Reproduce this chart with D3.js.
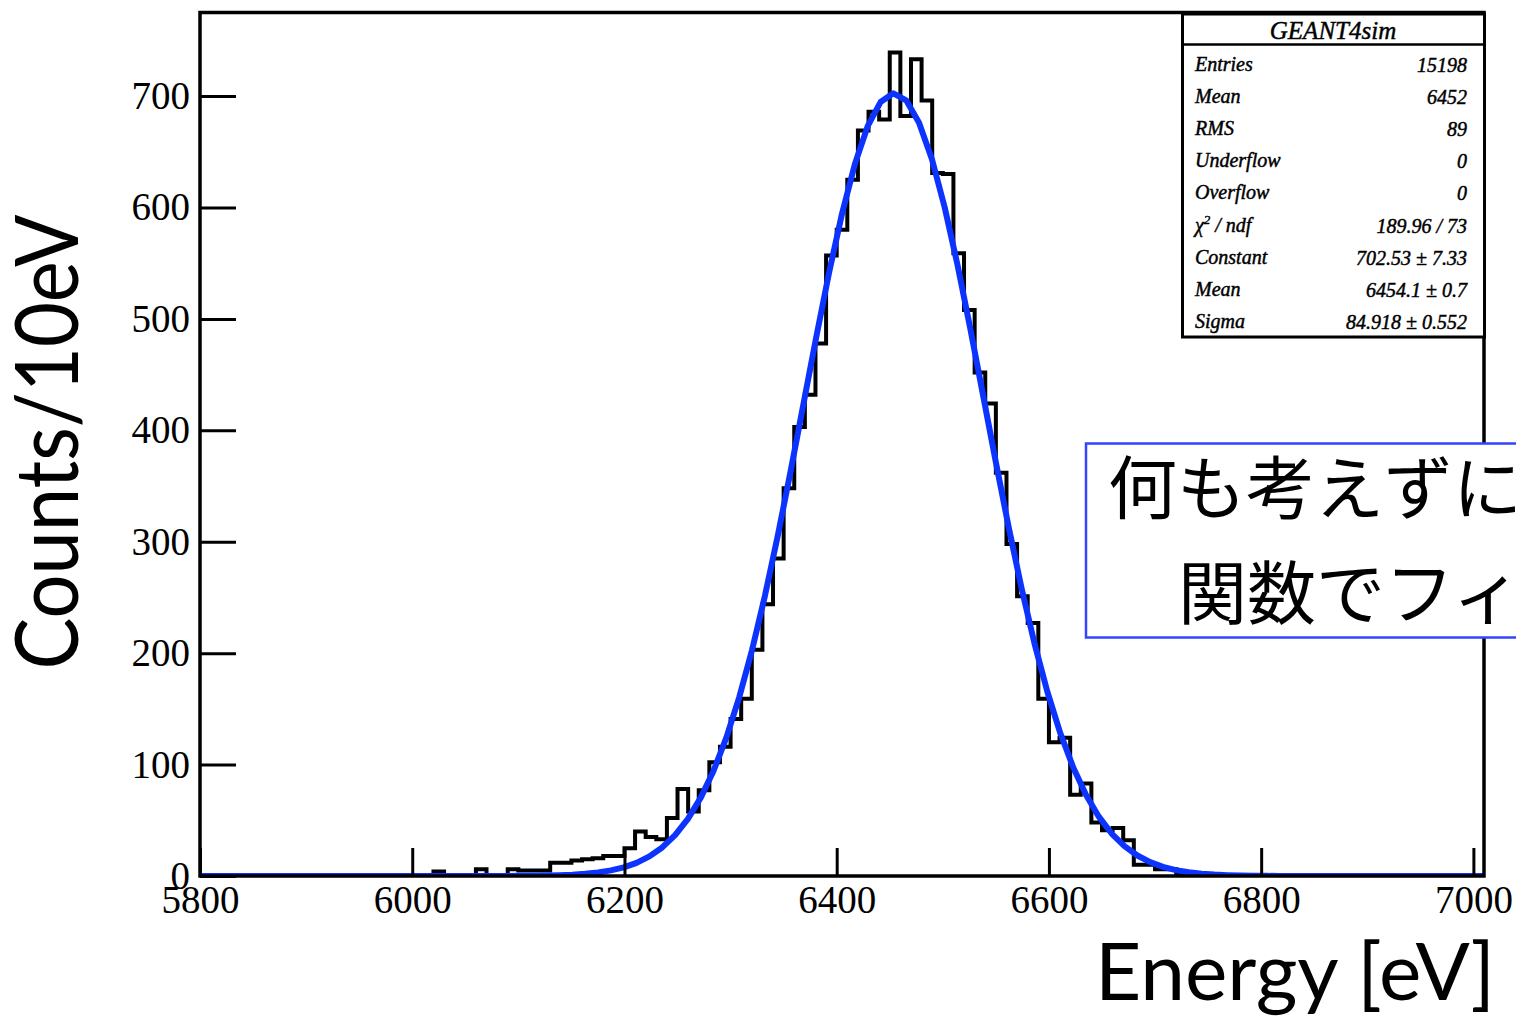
<!DOCTYPE html>
<html>
<head>
<meta charset="utf-8">
<script src="https://cdn.jsdelivr.net/npm/d3@7"></script>
<style>
  body { margin:0; background:#fff; }
  .tick text { font-family:"Liberation Serif", serif; }
</style>
</head>
<body>
<div id="container"></div>
<script>

// histogram: 10 eV bins, counts start at 6000 eV (everything else is empty)
var firstBin = 6000;
var binWidth = 10;
var counts = [
	0, 0, 4, 0, 0, 0, 6, 0, 0, 6,
	5, 5, 5, 12, 12, 14, 15, 16, 18, 18,
	25, 40, 35, 33, 52, 78, 58, 77, 102, 116,
	141, 159, 203, 244, 285, 348, 403, 432, 478, 557,
	580, 625, 669, 686, 679, 739, 682, 733, 696, 631,
	630, 559, 508, 452, 424, 362, 298, 251, 227, 159,
	120, 124, 73, 83, 48, 41, 43, 32, 10, 10,
	6, 6, 2, 2, 1, 0
];

// fit parameters (gaus)
var fitConstant = 702.53;
var fitMean = 6454.1;
var fitSigma = 84.918;
var fitPoints = 100;

var xDomain = [5800, 7010];
var yDomain = [0, 775];
var xMajor = [5800, 6000, 6200, 6400, 6600, 6800, 7000];
var yMajor = [0, 100, 200, 300, 400, 500, 600, 700];

var statLabels = ['Entries', 'Mean', 'RMS', 'Underflow', 'Overflow', 'chi2', 'Constant', 'Mean', 'Sigma'];
var statValues = ['15198', '6452', '89', '0', '0', '189.96 / 73', '702.53 \u00b1 7.33', '6454.1 \u00b1 0.7', '84.918 \u00b1 0.552'];

var noteLines = ['何も考えずに', '関数でフィ'];

function render() {
	var width = 1516, height = 1018;
	var plot = {left:200, top:12.5, right:1484, bottom:876};

	var svg = d3.select('#container')
		.append('svg')
		.attr('width', width)
		.attr('height', height)
		.style('display', 'block');

	svg.append('rect').attr('width', width).attr('height', height).attr('fill', '#fff');

	var x = d3.scaleLinear().domain(xDomain).range([plot.left, plot.right]);
	var y = d3.scaleLinear().domain(yDomain).range([plot.bottom, plot.top]);

	svg.append('clipPath').attr('id', 'clip')
		.append('rect')
		.attr('x', plot.left).attr('y', plot.top)
		.attr('width', plot.right - plot.left).attr('height', plot.bottom - plot.top);

	// histogram outline
	var pts = [[xDomain[0], 0]];
	counts.forEach(function(c, i) {
		var e = firstBin + i * binWidth;
		pts.push([e, 0 === i ? 0 : counts[i - 1]]);
		pts.push([e, c]);
	});
	var lastEdge = firstBin + counts.length * binWidth;
	pts.push([lastEdge, counts[counts.length - 1]]);
	pts.push([lastEdge, 0]);
	pts.push([xDomain[1], 0]);

	svg.append('path')
		.attr('clip-path', 'url(#clip)')
		.attr('d', d3.line().x(d => x(d[0])).y(d => y(d[1]))(pts))
		.attr('fill', 'none')
		.attr('stroke', '#000')
		.attr('stroke-width', 4);

	// fit curve
	var fit = d3.range(fitPoints + 1).map(function(k) {
		var e = xDomain[0] + (xDomain[1] - xDomain[0]) * k / fitPoints;
		return [e, fitConstant * Math.exp(-0.5 * Math.pow((e - fitMean) / fitSigma, 2))];
	});
	svg.append('path')
		.attr('clip-path', 'url(#clip)')
		.attr('d', d3.line().x(d => x(d[0])).y(d => y(d[1]))(fit))
		.attr('fill', 'none')
		.attr('stroke', '#0d33ff')
		.attr('stroke-width', 6)
		.attr('stroke-linejoin', 'round');

	// axes, ROOT style ticks pointing inward
	var gy = svg.append('g').attr('transform', 'translate(' + plot.left + ',0)');
	gy.call(d3.axisLeft(y).tickValues(d3.range(0, 775, 20)).tickSize(-18).tickFormat(''));
	gy.call(d3.axisLeft(y).tickValues(yMajor).tickSize(-36).tickPadding(10).tickFormat(d3.format('d')));

	var gx = svg.append('g').attr('transform', 'translate(0,' + plot.bottom + ')');
	gx.call(d3.axisBottom(x).tickValues(d3.range(5800, 7001, 50)).tickSize(-14).tickFormat(''));
	gx.call(d3.axisBottom(x).tickValues(xMajor).tickSize(-28).tickPadding(9).tickFormat(d3.format('d')));

	svg.selectAll('.domain').remove();
	svg.selectAll('.tick line').attr('stroke', '#000').attr('stroke-width', 3);
	svg.selectAll('.tick text')
		.attr('font-size', 39)
		.attr('fill', '#000');

	// frame
	svg.append('rect')
		.attr('x', plot.left).attr('y', plot.top)
		.attr('width', plot.right - plot.left).attr('height', plot.bottom - plot.top)
		.attr('fill', 'none')
		.attr('stroke', '#000')
		.attr('stroke-width', 3.5);

	// axis titles
	svg.append('text')
		.attr('transform', 'translate(78,442) rotate(-90)')
		.attr('text-anchor', 'middle')
		.attr('font-family', 'Lato, sans-serif')
		.attr('font-size', 88)
		.attr('textLength', 455)
		.attr('lengthAdjust', 'spacingAndGlyphs')
		.text('Counts/10eV');

	svg.append('text')
		.attr('x', 1095).attr('y', 1000)
		.attr('font-family', 'Lato, sans-serif')
		.attr('font-size', 79)
		.attr('textLength', 400)
		.attr('lengthAdjust', 'spacingAndGlyphs')
		.text('Energy [eV]');

	// stats box
	var sb = svg.append('g')
		.attr('font-family', '"Liberation Serif", serif')
		.attr('font-style', 'italic')
		.attr('stroke', '#000')
		.attr('stroke-width', 0.45);
	sb.append('rect')
		.attr('x', 1182.5).attr('y', 14)
		.attr('width', 302).attr('height', 323)
		.attr('fill', '#fff')
		.attr('stroke-width', 3);
	sb.append('line')
		.attr('x1', 1182.5).attr('x2', 1484.5)
		.attr('y1', 44.5).attr('y2', 44.5)
		.attr('stroke-width', 2.5);
	sb.append('text')
		.attr('x', 1333).attr('y', 39)
		.attr('text-anchor', 'middle')
		.attr('font-size', 25)
		.text('GEANT4sim');

	statLabels.forEach(function(lab, i) {
		var by = 71 + i * 32.1;
		var t = sb.append('text')
			.attr('x', 1195).attr('y', by)
			.attr('font-size', 20);
		if (lab === 'chi2') {
			t.append('tspan').text('\u03c7');
			t.append('tspan').attr('font-size', 13).attr('dy', -8).text('2');
			t.append('tspan').attr('dy', 8).text(' / ndf');
		} else {
			t.text(lab);
		}
		sb.append('text')
			.attr('x', 1467).attr('y', by + 1)
			.attr('text-anchor', 'end')
			.attr('font-size', 20)
			.text(statValues[i]);
	});

	// note box (runs off the right edge)
	svg.append('rect')
		.attr('x', 1086).attr('y', 443.5)
		.attr('width', 500).attr('height', 194)
		.attr('fill', '#fff')
		.attr('stroke', '#3344ff')
		.attr('stroke-width', 2.5);
	var noteX = [1108, 1178];
	var noteY = [514, 619];
	noteLines.forEach(function(s, i) {
		svg.append('text')
			.attr('x', noteX[i]).attr('y', noteY[i])
			.attr('font-family', '"Noto Sans CJK JP", sans-serif')
			.attr('font-size', 69)
			.attr('fill', '#000')
			.text(s);
	});
}

render();
</script>
</body>
</html>
